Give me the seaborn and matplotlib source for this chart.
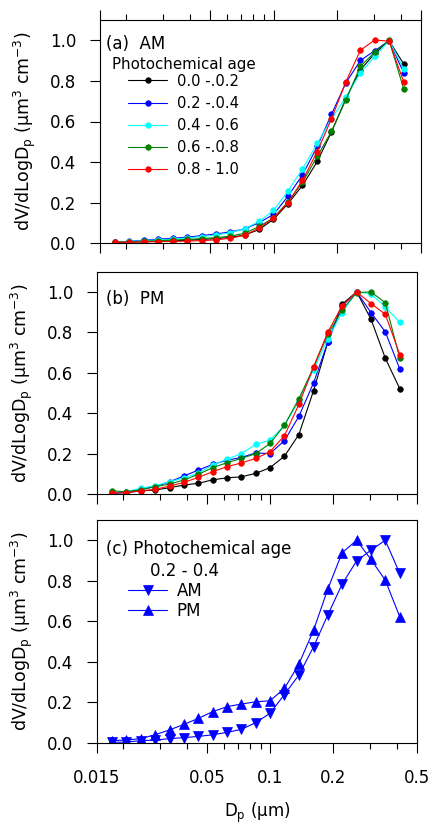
import numpy as np
import pandas as pd
import seaborn as sns
import matplotlib.pyplot as plt
from matplotlib.ticker import FixedLocator, FixedFormatter, NullFormatter

# particle diameter (um) of each size bin
dp = [0.0176, 0.0206, 0.0242, 0.0283, 0.0332, 0.0388, 0.0455, 0.0532, 0.0623, 0.0730,
      0.0854, 0.0998, 0.117, 0.137, 0.161, 0.188, 0.220, 0.258, 0.302, 0.353, 0.414]

age_labels = ["0.0 -.0.2", "0.2 -.0.4", "0.4 - 0.6", "0.6 -.0.8", "0.8 - 1.0"]
age_colors = ["black", "#0000ff", "#00ffff", "#008000", "#ff0000"]

# (a) AM, normalised dV/dlogDp
am_00_02 = [0.004, 0.006, 0.008, 0.010, 0.012, 0.015, 0.019, 0.023, 0.029, 0.041, 0.068,
            0.118, 0.195, 0.285, 0.403, 0.548, 0.712, 0.855, 0.935, 0.998, 0.883]
am_02_04 = [0.005, 0.010, 0.015, 0.020, 0.025, 0.030, 0.038, 0.046, 0.056, 0.071, 0.102,
            0.142, 0.232, 0.337, 0.477, 0.635, 0.790, 0.901, 0.949, 0.998, 0.839]
am_04_06 = [0.005, 0.009, 0.013, 0.017, 0.021, 0.026, 0.033, 0.041, 0.052, 0.072, 0.108,
            0.162, 0.258, 0.367, 0.492, 0.612, 0.720, 0.839, 0.921, 0.998, 0.859]
am_06_08 = [0.005, 0.007, 0.010, 0.013, 0.016, 0.019, 0.023, 0.028, 0.035, 0.050, 0.083,
            0.125, 0.205, 0.300, 0.428, 0.551, 0.707, 0.872, 0.942, 1.000, 0.760]
am_08_10 = [0.005, 0.006, 0.007, 0.008, 0.009, 0.011, 0.013, 0.017, 0.025, 0.040, 0.075,
            0.125, 0.200, 0.310, 0.452, 0.613, 0.795, 0.951, 1.002, 0.995, 0.795]

# (b) PM
pm_00_02 = [0.005, 0.007, 0.015, 0.020, 0.031, 0.044, 0.053, 0.070, 0.080, 0.085, 0.102,
            0.130, 0.187, 0.294, 0.512, 0.750, 0.939, 1.000, 0.865, 0.673, 0.521]
pm_02_04 = [0.003, 0.008, 0.025, 0.036, 0.060, 0.089, 0.118, 0.146, 0.167, 0.181, 0.203,
            0.200, 0.264, 0.384, 0.550, 0.750, 0.931, 1.000, 0.898, 0.803, 0.619]
pm_04_06 = [0.008, 0.012, 0.028, 0.041, 0.060, 0.080, 0.103, 0.143, 0.172, 0.200, 0.246,
            0.266, 0.340, 0.460, 0.614, 0.767, 0.898, 1.000, 0.990, 0.926, 0.849]
pm_06_08 = [0.016, 0.011, 0.020, 0.036, 0.049, 0.069, 0.097, 0.130, 0.155, 0.176, 0.200,
            0.250, 0.340, 0.471, 0.627, 0.790, 0.910, 0.997, 1.000, 0.947, 0.672]
pm_08_10 = [0.005, 0.007, 0.015, 0.023, 0.039, 0.057, 0.082, 0.110, 0.135, 0.154, 0.176,
            0.209, 0.289, 0.443, 0.630, 0.800, 0.931, 1.000, 0.942, 0.890, 0.690]

# (c) photochemical age 0.2 - 0.4
c_am = [0.002, 0.003, 0.010, 0.013, 0.020, 0.025, 0.031, 0.039, 0.051, 0.066, 0.099,
        0.145, 0.238, 0.334, 0.474, 0.630, 0.783, 0.898, 0.951, 1.000, 0.836]
c_pm = [0.010, 0.013, 0.020, 0.039, 0.063, 0.090, 0.120, 0.153, 0.178, 0.191, 0.202,
        0.207, 0.268, 0.388, 0.556, 0.758, 0.938, 1.000, 0.905, 0.803, 0.622]

x_major = [0.015, 0.05, 0.1, 0.2, 0.5]
x_major_labels = ["0.015", "0.05", "0.1", "0.2", "0.5"]
x_minor = [0.02, 0.03, 0.04, 0.06, 0.07, 0.08, 0.09, 0.3, 0.4]
y_ticks = [0.0, 0.2, 0.4, 0.6, 0.8, 1.0]

sns.set_style("ticks")
plt.rcParams['font.family'] = ['DejaVu Sans']
plt.rcParams['text.color'] = 'black'
plt.rcParams['axes.labelcolor'] = 'black'
plt.rcParams['xtick.color'] = 'black'
plt.rcParams['ytick.color'] = 'black'

W, H = 431, 824
fig = plt.figure(figsize=(W / 100, H / 100), dpi=100)


def px_axes(x0, y0, x1, y1):
    return fig.add_axes([x0 / W, 1 - y1 / H, (x1 - x0) / W, (y1 - y0) / H])


def fx(x):
    return x / W


def fy(y):
    return 1 - y / H


ylab = "dV/dLogD$_\\mathregular{p}$ (\u00b5m$^\\mathregular{3}$ cm$^\\mathregular{-3}$)"


def style_axis(ax, show_xlabels=False, top_ticks=False):
    ax.set_xscale("log")
    ax.set_xlim(0.015, 0.5)
    ax.set_ylim(0, 1.1)
    ax.xaxis.set_major_locator(FixedLocator(x_major))
    ax.xaxis.set_minor_locator(FixedLocator(x_minor))
    ax.xaxis.set_minor_formatter(NullFormatter())
    if show_xlabels:
        ax.xaxis.set_major_formatter(FixedFormatter(x_major_labels))
    else:
        ax.xaxis.set_major_formatter(NullFormatter())
    ax.set_yticks(y_ticks)
    ax.set_yticklabels([f"{v:.1f}" for v in y_ticks])
    ax.tick_params(which="major", direction="out", length=7, width=0.8,
                   labelsize=12, color="black", labelcolor="black")
    ax.tick_params(which="minor", direction="out", length=4.5, width=0.8, color="black")
    ax.tick_params(axis="x", which="major", pad=12)
    ax.tick_params(axis="y", which="major", pad=10)
    ax.tick_params(axis="x", which="both", top=top_ticks)
    for s in ax.spines.values():
        s.set_visible(True)
        s.set_linewidth(0.8)
        s.set_color("black")
    ax.set_ylabel(ylab, fontsize=12.5, labelpad=9, color="black")


def draw(ax, values, color, label, marker="o", ms=4):
    sns.lineplot(x=dp, y=values, ax=ax, color=color, marker=marker, markersize=ms,
                 markeredgecolor=color, markeredgewidth=0.5, linewidth=0.8,
                 label=label, legend=False)


ax_a = px_axes(100, 20, 421, 243.3)
ax_b = px_axes(97, 271.7, 417, 494)
ax_c = px_axes(97, 520, 417, 742.7)

style_axis(ax_a, top_ticks=True)
style_axis(ax_b)
style_axis(ax_c, show_xlabels=True)

for vals, col, lab in zip([am_00_02, am_02_04, am_04_06, am_06_08, am_08_10],
                          age_colors, age_labels):
    draw(ax_a, vals, col, lab)

for vals, col, lab in zip([pm_00_02, pm_02_04, pm_04_06, pm_06_08, pm_08_10],
                          age_colors, age_labels):
    draw(ax_b, vals, col, lab)

draw(ax_c, c_am, "#0000ff", "AM", marker="v", ms=6.5)
draw(ax_c, c_pm, "#0000ff", "PM", marker="^", ms=6.5)

# panel (a) annotations and legend
fig.text(fx(106), fy(44), "(a)  AM", fontsize=12, va="center", ha="left")
fig.text(fx(112), fy(65), "Photochemical age", fontsize=10.8, va="center", ha="left")
h, l = ax_a.get_legend_handles_labels()
ax_a.legend(h, l, loc="upper left", bbox_to_anchor=(fx(128), fy(73.5)),
            bbox_transform=fig.transFigure, frameon=False, fontsize=10.6,
            handlelength=2.65, handletextpad=0.66, labelspacing=0.49,
            borderpad=0, borderaxespad=0)

# panel (b)
fig.text(fx(106), fy(299), "(b)  PM", fontsize=12, va="center", ha="left")

# panel (c)
fig.text(fx(106), fy(549), "(c) Photochemical age", fontsize=12, va="center", ha="left")
fig.text(fx(150), fy(571), "0.2 - 0.4", fontsize=12, va="center", ha="left")
h, l = ax_c.get_legend_handles_labels()
ax_c.legend(h, l, loc="upper left", bbox_to_anchor=(fx(128), fy(582)),
            bbox_transform=fig.transFigure, frameon=False, fontsize=12,
            handlelength=2.35, handletextpad=0.58, labelspacing=0.12,
            borderpad=0, borderaxespad=0)

ax_c.set_xlabel("D$_\\mathregular{p}$ (\u00b5m)", fontsize=12, labelpad=10, color="black")

fig.savefig("out.png", dpi=100)
